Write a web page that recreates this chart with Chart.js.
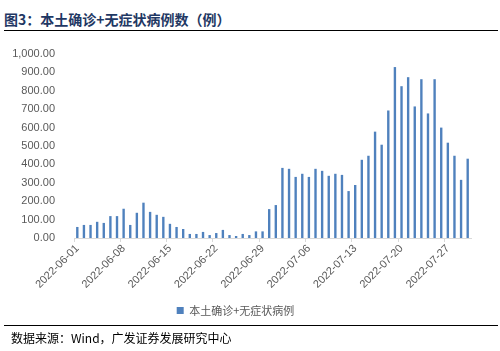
<!DOCTYPE html>
<html>
<head>
<meta charset="utf-8">
<script src="https://cdn.jsdelivr.net/npm/chart.js@4.4.0/dist/chart.umd.min.js"></script>
<style>
    body { margin: 0; background: #fff; }
    #wrap { position: relative; width: 500px; height: 351px; overflow: hidden; }
    #titulo { position: absolute; left: 4px; top: 11px; font: bold 14px "Noto Sans CJK SC", sans-serif; line-height: 16px; color: #1f3864; white-space: nowrap; }
    .linea { position: absolute; left: 4px; width: 494px; height: 0; border-top: 1.5px solid #000; }
    #fuente { position: absolute; left: 11px; top: 330px; font: 12px "Noto Sans CJK SC", sans-serif; line-height: 15px; color: #000; white-space: nowrap; }
    #lienzo { position: absolute; left: 0; top: 35px; }
</style>
</head>
<body>
<div id="wrap">
    <div id="titulo">图3：本土确诊+无症状病例数（例）</div>
    <div class="linea" style="top:30px"></div>
    <canvas id="lienzo" width="500" height="291"></canvas>
    <div class="linea" style="top:325px"></div>
    <div id="fuente">数据来源：Wind，广发证券发展研究中心</div>
</div>
<script>
// Fechas (categorías)
const fechas = [
    '2022-06-01','2022-06-02','2022-06-03','2022-06-04','2022-06-05','2022-06-06','2022-06-07',
    '2022-06-08','2022-06-09','2022-06-10','2022-06-11','2022-06-12','2022-06-13','2022-06-14',
    '2022-06-15','2022-06-16','2022-06-17','2022-06-18','2022-06-19','2022-06-20','2022-06-21',
    '2022-06-22','2022-06-23','2022-06-24','2022-06-25','2022-06-26','2022-06-27','2022-06-28',
    '2022-06-29','2022-06-30','2022-07-01','2022-07-02','2022-07-03','2022-07-04','2022-07-05',
    '2022-07-06','2022-07-07','2022-07-08','2022-07-09','2022-07-10','2022-07-11','2022-07-12',
    '2022-07-13','2022-07-14','2022-07-15','2022-07-16','2022-07-17','2022-07-18','2022-07-19',
    '2022-07-20','2022-07-21','2022-07-22','2022-07-23','2022-07-24','2022-07-25','2022-07-26',
    '2022-07-27','2022-07-28','2022-07-29','2022-07-30'
];

// Casos por día (junio y julio)
const casosJunio = [60, 71, 71, 88, 82, 119, 119, 159, 71, 137, 192, 142, 126, 115, 77,
    60, 49, 22, 22, 33, 16, 27, 44, 16, 11, 22, 16, 36, 36, 157];
const casosJulio = [179, 381, 376, 332, 349, 332, 376, 365, 338, 349, 343, 255, 288, 425, 447,
    578, 507, 693, 929, 825, 874, 715, 863, 677, 863, 600, 518, 447, 316, 431];
const casos = casosJunio.concat(casosJulio);

const nombreSerie = '本土确诊+无症状病例';
const ticksY = [0, 100, 200, 300, 400, 500, 600, 700, 800, 900, 1000];

const fuenteEjes = { family: '"Liberation Sans", Arial, "Noto Sans CJK SC", sans-serif', size: 11 };

new Chart(document.getElementById('lienzo').getContext('2d'), {
    type: 'bar',
    data: {
        labels: fechas,
        datasets: [{
            label: nombreSerie,
            data: casos,
            backgroundColor: '#4f81bd',
            borderWidth: 0,
            categoryPercentage: 1,
            barPercentage: 0.36
        }]
    },
    options: {
        responsive: false,
        animation: false,
        layout: { padding: { left: 0, right: 29, top: 19, bottom: 0 } },
        scales: {
            x: {
                grid: {
                    offset: true,
                    drawOnChartArea: false,
                    tickLength: 4,
                    tickColor: ctx => (ctx.index % 7 === 0 ? '#d9d9d9' : 'rgba(0,0,0,0)')
                },
                border: { color: '#d9d9d9', width: 1 },
                ticks: {
                    autoSkip: false,
                    minRotation: 45,
                    maxRotation: 45,
                    padding: 0,
                    color: '#595959',
                    font: fuenteEjes,
                    callback: function(valor, i) { return i % 7 === 0 ? fechas[i] : ''; }
                },
                afterFit: function(escala) { escala.height = 57; }
            },
            y: {
                min: 0,
                max: 1000,
                afterBuildTicks: function(escala) { escala.ticks = ticksY.map(v => ({ value: v })); },
                grid: { display: false },
                border: { display: false },
                ticks: {
                    padding: 11,
                    color: '#595959',
                    font: fuenteEjes,
                    callback: v => v.toLocaleString('en-US', { minimumFractionDigits: 2, maximumFractionDigits: 2 })
                },
                afterFit: function(escala) { escala.width = 74; }
            }
        },
        plugins: {
            legend: {
                position: 'bottom',
                labels: {
                    boxWidth: 7,
                    boxHeight: 7,
                    padding: 10,
                    color: '#595959',
                    font: { family: '"Noto Sans CJK SC", sans-serif', size: 11 }
                }
            },
            tooltip: { enabled: false }
        }
    }
});
</script>
</body>
</html>
